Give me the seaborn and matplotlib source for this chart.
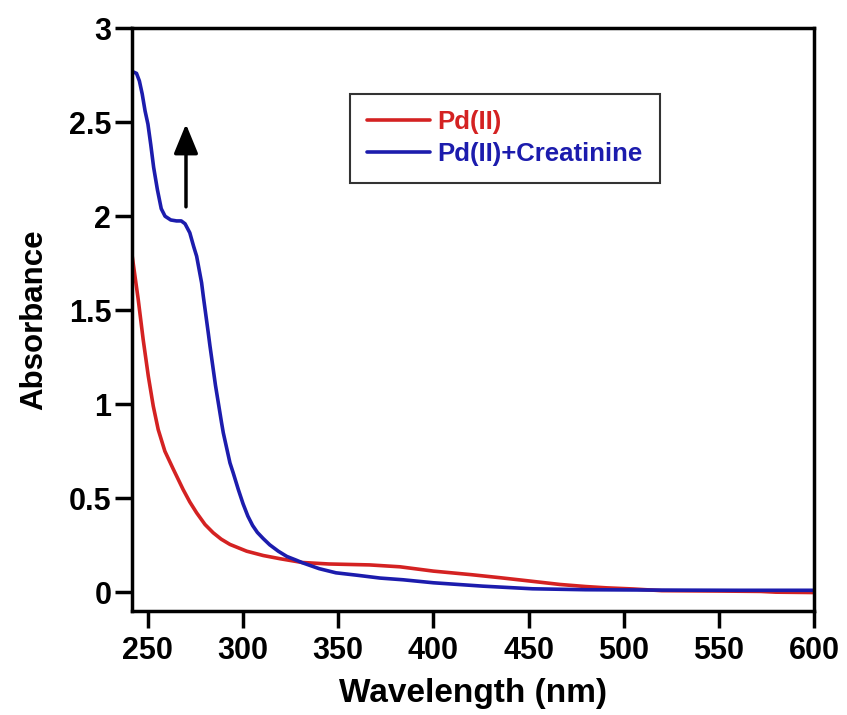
import matplotlib
matplotlib.use("Agg")
import matplotlib.pyplot as plt
import seaborn as sns
import pandas as pd
from matplotlib.ticker import FuncFormatter

# ---- data ----
wl_pd = [241.7, 244.9, 247.5, 250.2, 252.8, 255.4, 258.9, 263.3, 268.5, 272, 275.6, 280,
         284.3, 288.5, 293.1, 301.9, 310.6, 319.4, 331, 345, 366.5, 382.4, 400, 420, 435,
         450, 466.5, 480, 491, 505, 520, 550, 572, 580, 600]
abs_pd = [1.79, 1.557, 1.344, 1.149, 0.99, 0.865, 0.75, 0.655, 0.546, 0.48, 0.422, 0.36,
          0.316, 0.282, 0.254, 0.218, 0.195, 0.178, 0.158, 0.15, 0.145, 0.135, 0.112, 0.093,
          0.077, 0.06, 0.041, 0.03, 0.023, 0.017, 0.008, 0.006, 0.004, 0.0, -0.002]

wl_pdc = [241.7, 244, 245.5, 247, 248.5, 250, 251.5, 253, 255, 257, 259, 262, 265, 267.5,
          269.5, 272, 274, 275.6, 278.2, 279.1, 281.7, 282.6, 285.5, 288.7, 289.6, 293.1,
          294.8, 297.5, 300, 302.5, 305, 307.5, 310.6, 314, 318.5, 323, 328, 331.3, 340,
          348.8, 360, 372, 384, 400, 426, 452, 480, 520, 560, 600]
abs_pdc = [2.77, 2.76, 2.72, 2.65, 2.56, 2.49, 2.38, 2.26, 2.14, 2.04, 2.0, 1.98, 1.975,
           1.975, 1.96, 1.912, 1.84, 1.787, 1.646, 1.574, 1.38, 1.31, 1.10, 0.901, 0.848,
           0.688, 0.635, 0.546, 0.47, 0.405, 0.355, 0.318, 0.285, 0.252, 0.218, 0.19, 0.17,
           0.156, 0.125, 0.103, 0.09, 0.075, 0.066, 0.05, 0.032, 0.018, 0.013, 0.011, 0.01,
           0.01]

series_names = ["Pd(II)", "Pd(II)+Creatinine"]
series_colors = ["#d42222", "#1c1cad"]
x_ticks = [250, 300, 350, 400, 450, 500, 550, 600]
y_ticks = [0, 0.5, 1, 1.5, 2, 2.5, 3]

df = pd.concat([
    pd.DataFrame({"Wavelength": wl_pd, "Absorbance": abs_pd, "Sample": series_names[0]}),
    pd.DataFrame({"Wavelength": wl_pdc, "Absorbance": abs_pdc, "Sample": series_names[1]}),
], ignore_index=True)

sns.set_style("ticks")
plt.rcParams["font.family"] = ["Liberation Sans", "DejaVu Sans"]
plt.rcParams["font.weight"] = "bold"
for k in ["text.color", "axes.labelcolor", "xtick.color", "ytick.color", "axes.edgecolor"]:
    plt.rcParams[k] = "black"

fig = plt.figure(figsize=(8.47, 7.15), dpi=100)
ax = fig.add_axes([0.156, 0.1455, 0.805, 0.815])

sns.lineplot(data=df, x="Wavelength", y="Absorbance", hue="Sample",
             palette=dict(zip(series_names, series_colors)), linewidth=2.6,
             estimator=None, sort=False, ax=ax)

ax.set_xlim(241.7, 600)
ax.set_ylim(-0.1, 3.0)
ax.set_xticks(x_ticks)
ax.set_yticks(y_ticks)
ax.yaxis.set_major_formatter(FuncFormatter(lambda v, p: f"{v:g}"))
ax.tick_params(axis="both", direction="out", length=12, width=2.5, labelsize=22,
               colors="black")
ax.tick_params(axis="y", pad=3)
ax.tick_params(axis="x", pad=6)
for lab in ax.get_xticklabels() + ax.get_yticklabels():
    lab.set_fontweight("bold")
for s in ax.spines.values():
    s.set_visible(True)
    s.set_linewidth(2.5)
    s.set_color("black")

ax.set_xlabel("Wavelength (nm)", fontsize=24, fontweight="bold", labelpad=9)
ax.set_ylabel("Absorbance", fontsize=22.5, fontweight="bold", labelpad=14)

# arrow
ax.annotate("", xy=(270, 2.49), xytext=(270, 2.05),
            arrowprops=dict(arrowstyle="-|>,head_length=0.9,head_width=0.37",
                            mutation_scale=20, lw=2.5, color="black",
                            shrinkA=0, shrinkB=0))

leg = ax.legend(loc="upper left", bbox_to_anchor=(0.32, 0.888), borderaxespad=0,
                handlelength=2.45, handletextpad=0.3, labelspacing=0.32,
                frameon=True, fancybox=False, edgecolor="black", borderpad=0.65,
                prop={"weight": "bold", "size": 18.5})
leg.get_frame().set_linewidth(1.5)
for t, c in zip(leg.get_texts(), series_colors):
    t.set_color(c)
for l in leg.get_lines():
    l.set_linewidth(2.6)

fig.savefig("out.png", dpi=100)
